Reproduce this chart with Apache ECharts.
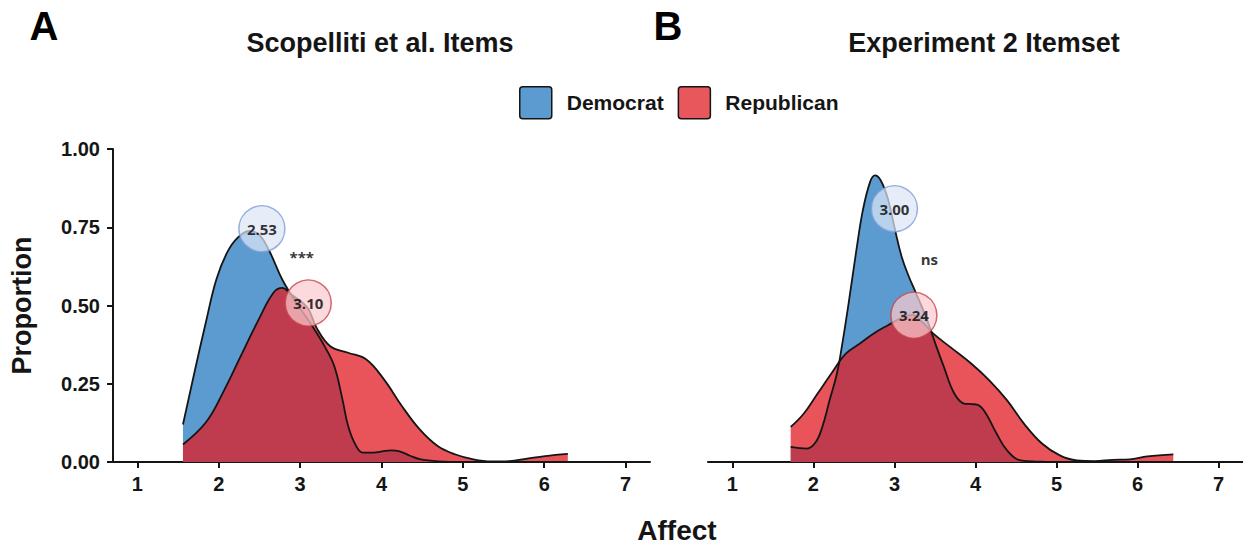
<!DOCTYPE html>
<html>
<head>
<meta charset="utf-8">
<script src="https://cdn.jsdelivr.net/npm/echarts@6/dist/echarts.min.js"></script>
<style>
html,body{margin:0;padding:0;background:#fff;}
#chart{width:1243px;height:544px;}
</style>
</head>
<body>
<div id="chart"></div>
<script>
// ---- data ----
const xTicks = [1, 2, 3, 4, 5, 6, 7];
const yTicks = [0, 0.25, 0.5, 0.75, 1];
const groups = ['Democrat', 'Republican'];
const panelTitles = ['Scopelliti et al. Items', 'Experiment 2 Itemset'];
const panelLetters = ['A', 'B'];

// Panel A densities [Affect, Proportion]
const demA = [[1.56,0.120],[1.70,0.285],[1.84,0.445],[1.97,0.583],[2.10,0.668],[2.23,0.716],[2.38,0.738],[2.50,0.725],[2.62,0.675],[2.78,0.583],[2.95,0.51],[3.15,0.434],[3.30,0.37],[3.42,0.306],[3.52,0.2],[3.59,0.115],[3.68,0.055],[3.77,0.03],[3.90,0.03],[4.03,0.035],[4.12,0.037],[4.21,0.035],[4.35,0.02],[4.47,0.009],[4.70,0.002],[5.0,0.0],[5.5,0.0],[6.0,0.0],[6.29,0.0]];
const repA = [[1.56,0.056],[1.84,0.126],[2.05,0.221],[2.27,0.338],[2.49,0.455],[2.67,0.54],[2.78,0.556],[2.89,0.535],[3.0,0.515],[3.10,0.49],[3.20,0.43],[3.37,0.37],[3.59,0.349],[3.81,0.328],[4.03,0.264],[4.25,0.179],[4.47,0.104],[4.69,0.051],[4.91,0.024],[5.13,0.0085],[5.35,0.002],[5.57,0.003],[5.79,0.011],[6.01,0.019],[6.29,0.026]];

// Panel B densities
const demB = [[1.72,0.048],[1.92,0.043],[2.03,0.064],[2.11,0.112],[2.20,0.197],[2.29,0.282],[2.35,0.367],[2.44,0.516],[2.53,0.676],[2.61,0.804],[2.70,0.895],[2.76,0.916],[2.83,0.90],[2.92,0.84],[3.00,0.75],[3.09,0.655],[3.18,0.591],[3.26,0.543],[3.39,0.463],[3.52,0.367],[3.61,0.304],[3.74,0.218],[3.87,0.186],[3.96,0.185],[4.04,0.181],[4.13,0.154],[4.26,0.091],[4.39,0.037],[4.56,0.005],[4.8,0.001],[5.2,0],[6.0,0],[6.44,0]];
const repB = [[1.72,0.112],[1.88,0.154],[2.05,0.218],[2.22,0.282],[2.40,0.346],[2.57,0.378],[2.74,0.41],[2.92,0.437],[3.10,0.462],[3.22,0.47],[3.35,0.445],[3.48,0.41],[3.69,0.367],[3.95,0.314],[4.17,0.261],[4.39,0.197],[4.60,0.122],[4.82,0.059],[5.04,0.021],[5.25,0.005],[5.47,0.003],[5.69,0.007],[5.90,0.0085],[6.12,0.018],[6.44,0.0245]];

// Mean labels (x = mean, y = position of bubble)
const meanXA = [2.53, 3.10];
const meanYA = [0.745, 0.508];
const meanXB = [3.00, 3.24];
const meanYB = [0.809, 0.469];

// Significance annotations
const sigText = ['***', 'ns'];
const sigX = [3.02, 3.43];
const sigY = [0.655, 0.65];

// ---- styling ----
const FONT = "'Liberation Sans', Arial, Helvetica, sans-serif";
const LABEL_FONT = "'Open Sans', 'Noto Sans', sans-serif";
const BLUE = '#5b9bd0';
const RED_FILL = '#e01b23';
const RED_LEGEND = '#e8575c';
const INK = '#151515';

function densitySeries(name, data, axisIdx, fill, opacity) {
  return {
    type: 'line', name: name, data: data,
    xAxisIndex: axisIdx, yAxisIndex: axisIdx,
    smooth: 0.4, symbol: 'none', silent: true,
    itemStyle: { color: name === groups[0] ? BLUE : RED_LEGEND },
    lineStyle: { color: INK, width: 1.8 },
    areaStyle: { color: fill, opacity: opacity }
  };
}

function meanSeries(axisIdx, xs, ys) {
  const fills = ['rgba(220,230,247,0.9)', 'rgba(249,202,207,0.9)'];
  const borders = ['#7f9ed6', '#c8454f'];
  return {
    type: 'scatter', xAxisIndex: axisIdx, yAxisIndex: axisIdx, silent: true,
    symbol: 'circle', symbolSize: 46, z: 5,
    data: xs.map((x, i) => ({
      value: [x, ys[i]],
      itemStyle: { color: fills[i], borderColor: borders[i], borderWidth: 1.5 },
      label: { show: true, position: 'inside', formatter: x.toFixed(2),
               color: '#000', fontWeight: 'bold', fontSize: 15, fontFamily: LABEL_FONT }
    }))
  };
}

function sigSeries(axisIdx, i) {
  return {
    type: 'scatter', xAxisIndex: axisIdx, yAxisIndex: axisIdx, silent: true,
    symbolSize: 0, z: 6,
    data: [[sigX[i], sigY[i]]],
    label: { show: true, position: 'inside', formatter: sigText[i],
             color: '#000', fontWeight: 'bold', fontSize: 15, fontFamily: LABEL_FONT }
  };
}

function xAxisDef(gridIndex) {
  return {
    type: 'value', gridIndex: gridIndex, min: 0.7, max: 7.3,
    axisLine: { show: true, lineStyle: { color: INK, width: 2 } },
    axisTick: { show: true, customValues: xTicks, length: 6, lineStyle: { color: INK, width: 2 } },
    axisLabel: { customValues: xTicks, color: INK, fontSize: 20, fontWeight: 'bold', fontFamily: FONT, margin: 12 },
    splitLine: { show: false }
  };
}

const chart = echarts.init(document.getElementById('chart'), null, { renderer: 'svg' });

const option = {
  backgroundColor: '#ffffff',
  animation: false,
  grid: [
    { left: 113, top: 149, width: 537, height: 313 },
    { left: 708, top: 149, width: 537, height: 313 }
  ],
  xAxis: [xAxisDef(0), xAxisDef(1)],
  yAxis: [
    {
      type: 'value', gridIndex: 0, min: 0, max: 1, interval: 0.25,
      name: 'Proportion', nameLocation: 'middle', nameGap: 78, nameRotate: 90,
      nameTextStyle: { color: INK, fontSize: 27, fontWeight: 'bold', fontFamily: FONT },
      axisLine: { show: true, lineStyle: { color: INK, width: 2 } },
      axisTick: { show: true, length: 6, lineStyle: { color: INK, width: 2 } },
      axisLabel: { color: INK, fontSize: 20, fontWeight: 'bold', fontFamily: FONT, margin: 13,
                   formatter: v => v.toFixed(2) },
      splitLine: { show: false }
    },
    { type: 'value', gridIndex: 1, min: 0, max: 1, interval: 0.25, show: false, splitLine: { show: false } }
  ],
  legend: {
    left: 519, top: 86, padding: 0, itemWidth: 32, itemHeight: 32, itemGap: 14,
    icon: 'path://M3,0 H29 Q32,0 32,3 V29 Q32,32 29,32 H3 Q0,32 0,29 V3 Q0,0 3,0 Z',
    selectedMode: false,
    textStyle: { color: INK, fontSize: 21, fontWeight: 'bold', fontFamily: FONT, padding: [0, 0, 0, 10] },
    data: [
      { name: groups[0], itemStyle: { color: BLUE, borderColor: INK, borderWidth: 1.5 } },
      { name: groups[1], itemStyle: { color: RED_LEGEND, borderColor: INK, borderWidth: 1.5 } }
    ]
  },
  graphic: [
    { type: 'text', x: 44, y: 26, style: { text: panelLetters[0], align: 'center', verticalAlign: 'middle', fill: '#000', font: "bold 40px " + FONT } },
    { type: 'text', x: 668, y: 26, style: { text: panelLetters[1], align: 'center', verticalAlign: 'middle', fill: '#000', font: "bold 40px " + FONT } },
    { type: 'text', x: 380, y: 43, style: { text: panelTitles[0], align: 'center', verticalAlign: 'middle', fill: INK, font: "bold 27px " + FONT } },
    { type: 'text', x: 984, y: 43, style: { text: panelTitles[1], align: 'center', verticalAlign: 'middle', fill: INK, font: "bold 27px " + FONT } },
    { type: 'text', x: 677, y: 530, style: { text: 'Affect', align: 'center', verticalAlign: 'middle', fill: INK, font: "bold 28px " + FONT } }
  ],
  series: [
    densitySeries(groups[0], demA, 0, BLUE, 1),
    densitySeries(groups[1], repA, 0, RED_FILL, 0.75),
    densitySeries(groups[0], demB, 1, BLUE, 1),
    densitySeries(groups[1], repB, 1, RED_FILL, 0.75),
    meanSeries(0, meanXA, meanYA),
    meanSeries(1, meanXB, meanYB),
    sigSeries(0, 0),
    sigSeries(1, 1)
  ]
};

chart.setOption(option);
</script>
</body>
</html>
